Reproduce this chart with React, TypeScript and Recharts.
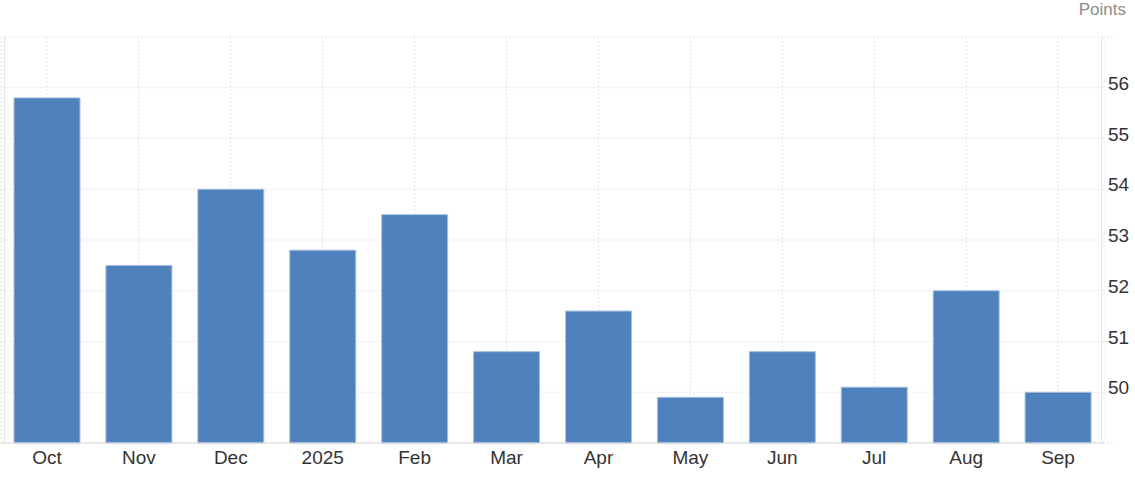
import { BarChart, Bar, XAxis, YAxis, CartesianGrid } from 'recharts'

// Monthly readings, Oct 2024 - Sep 2025
const months = ['Oct', 'Nov', 'Dec', '2025', 'Feb', 'Mar', 'Apr', 'May', 'Jun', 'Jul', 'Aug', 'Sep']
const values = [55.8, 52.5, 54.0, 52.8, 53.5, 50.8, 51.6, 49.9, 50.8, 50.1, 52.0, 50.0]
const yTicks = [49, 50, 51, 52, 53, 54, 55, 56, 57]
const yLabelled = [50, 51, 52, 53, 54, 55, 56]

const FONT = '"Liberation Sans", Arial, Helvetica, sans-serif'
const GRID = '#e3e3e3'
const BAR = '#4f81bd'

const data = months.map((month, i) => ({ month, value: values[i] }))

const YTick = ({ x, y, payload }: any) => {
  if (!yLabelled.includes(payload.value)) return null
  return (
    <text x={x - 5} y={y - 3} dominantBaseline="middle" textAnchor="start" fontSize={19} fontFamily={FONT} fill="#333">
      {payload.value}
    </text>
  )
}

export default function App() {
  return (
    <div style={{ position: 'absolute', left: 0, top: 0, width: 1135, height: 481, background: '#fff' }}>
      <div
        style={{
          position: 'absolute',
          right: 9,
          top: 0,
          fontFamily: FONT,
          fontSize: 17,
          color: '#8c8c8c',
        }}
      >
        Points
      </div>
      {/* frame lines */}
      <div style={{ position: 'absolute', left: 4, top: 37, width: 1, height: 406, background: GRID }} />
      <div style={{ position: 'absolute', left: 1101, top: 37, width: 1, height: 406, background: GRID }} />
      <BarChart
        width={1135}
        height={481}
        data={data}
        margin={{ top: 37, right: 0, bottom: 0, left: 1 }}
        style={{ position: 'absolute', left: 0, top: 0 }}
      >
        <CartesianGrid stroke={GRID} strokeDasharray="2 2" />
        <XAxis
          dataKey="month"
          height={38}
          tickLine={false}
          axisLine={{ stroke: '#d9d9d9' }}
          tick={{ fill: '#333', fontSize: 19, fontFamily: FONT }}
          interval={0}
        />
        <YAxis
          orientation="right"
          width={31}
          domain={[49, 57]}
          ticks={yTicks}
          interval={0}
          axisLine={false}
          tickSize={9}
          tickMargin={0}
          tickLine={{ stroke: GRID, strokeDasharray: '2 2' }}
          tick={<YTick />}
        />
        <Bar dataKey="value" fill={BAR} stroke="#a8c0e2" strokeWidth={1} barSize={66} isAnimationActive={false} />
      </BarChart>
    </div>
  )
}
